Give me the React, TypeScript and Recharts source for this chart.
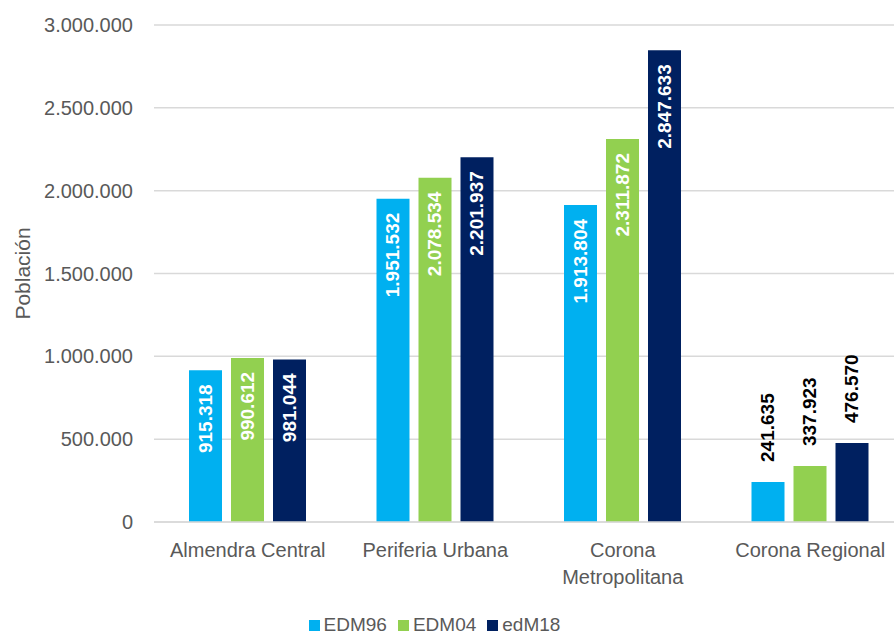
import React from 'react';
import { BarChart, Bar, XAxis, YAxis, CartesianGrid, Legend, LabelList } from 'recharts';

const categories = ['Almendra Central', 'Periferia Urbana', 'Corona Metropolitana', 'Corona Regional'];
const edm96 = [915318, 1951532, 1913804, 241635];
const edm04 = [990612, 2078534, 2311872, 337923];
const edm18 = [981044, 2201937, 2847633, 476570];
const yTicks = [0, 500000, 1000000, 1500000, 2000000, 2500000, 3000000];

const seriesNames = ['EDM96', 'EDM04', 'edM18'];
const seriesColors = ['#00B0F0', '#92D050', '#002060'];

const FONT = '"Liberation Sans", Arial, sans-serif';
const GRAY = '#595959';

const fmt = (v: number) => String(Math.round(v)).replace(/\B(?=(\d{3})+(?!\d))/g, '.');

const data = categories.map((name, i) => ({
  name,
  EDM96: edm96[i],
  EDM04: edm04[i],
  edM18: edm18[i],
}));

// inside the bar (white) when there is room, otherwise above it (black)
const BarValue = (props: any) => {
  const { x, y, width, height, value } = props;
  const cx = x + width / 2;
  const inside = height > 110;
  const py = inside ? y + 14 : y - 20;
  return (
    <text
      x={cx}
      y={py}
      transform={`rotate(-90 ${cx} ${py})`}
      textAnchor={inside ? 'end' : 'start'}
      dominantBaseline="central"
      fill={inside ? '#ffffff' : '#000000'}
      fontFamily={FONT}
      fontWeight="bold"
      fontSize={19}
    >
      {fmt(value)}
    </text>
  );
};

// long names break onto two lines, like the original
const CategoryTick = (props: any) => {
  const { x, y, payload } = props;
  const label: string = payload.value;
  const lines = label.length > 17 ? label.split(' ') : [label];
  return (
    <text x={x} y={y} textAnchor="middle" fill={GRAY} fontFamily={FONT} fontSize={20}>
      {lines.map((l, i) => (
        <tspan key={i} x={x} dy={i === 0 ? '0.85em' : 27}>
          {l}
        </tspan>
      ))}
    </text>
  );
};

const AxisTitle = (props: any) => {
  const { viewBox } = props;
  const cx = viewBox.x + 22;
  const cy = viewBox.y + viewBox.height / 2;
  return (
    <text
      x={cx}
      y={cy}
      transform={`rotate(-90 ${cx} ${cy})`}
      textAnchor="middle"
      dominantBaseline="central"
      fill={GRAY}
      fontFamily={FONT}
      fontSize={21}
    >
      Población
    </text>
  );
};

const LegendBox = () => (
  <div
    style={{
      display: 'flex',
      justifyContent: 'center',
      alignItems: 'center',
      gap: 11,
      paddingRight: 35,
      fontFamily: FONT,
      fontSize: 19,
      color: GRAY,
      height: 26,
    }}
  >
    {seriesNames.map((n, i) => (
      <div key={n} style={{ display: 'flex', alignItems: 'center', gap: 4 }}>
        <span style={{ display: 'inline-block', width: 11, height: 11, background: seriesColors[i] }} />
        <span>{n}</span>
      </div>
    ))}
  </div>
);

export default function App() {
  // the original picture is cropped on the right, so the plot runs past the frame
  return (
    <div
      style={{
        position: 'absolute',
        left: 0,
        top: 0,
        width: 894,
        height: 638,
        overflow: 'hidden',
        background: '#fff',
      }}
    >
      <BarChart
        width={904}
        height={638}
        data={data}
        margin={{ top: 25, right: 0, bottom: 0, left: 0 }}
        barSize={33}
        barGap={9}
      >
        <CartesianGrid vertical={false} stroke="#d9d9d9" strokeWidth={1.5} />
        <XAxis
          dataKey="name"
          height={90}
          axisLine={{ stroke: '#d9d9d9', strokeWidth: 1.5 }}
          tickLine={false}
          tickSize={0}
          tickMargin={18}
          interval={0}
          tick={<CategoryTick />}
        />
        <YAxis
          width={154}
          domain={[0, 3000000]}
          ticks={yTicks}
          axisLine={false}
          tickLine={false}
          tickSize={0}
          tickMargin={21}
          tickFormatter={fmt}
          tick={{ fill: GRAY, fontFamily: FONT, fontSize: 20 }}
          label={<AxisTitle />}
        />
        <Legend verticalAlign="bottom" align="center" content={<LegendBox />} />
        {seriesNames.map((n, i) => (
          <Bar key={n} dataKey={n} fill={seriesColors[i]} isAnimationActive={false}>
            <LabelList dataKey={n} content={<BarValue />} />
          </Bar>
        ))}
      </BarChart>
    </div>
  );
}
